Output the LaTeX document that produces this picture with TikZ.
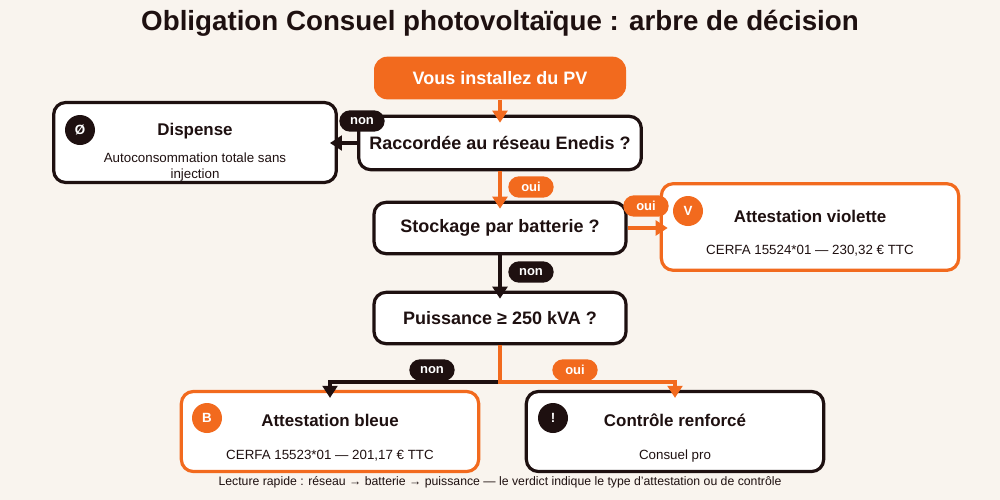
\documentclass[tikz,border=0pt]{standalone}
\usepackage{fontspec}
\setmainfont{Liberation Sans}
\usetikzlibrary{arrows.meta}
\definecolor{fond}{HTML}{F9F4EE}
\definecolor{orangepv}{HTML}{F26A1E}
\definecolor{brun}{HTML}{1E1010}
\tikzset{
  boite/.style={draw=brun,line width=2.4pt,fill=white,rounded corners=9pt,text=brun,font=\fontsize{13.5}{16}\selectfont\bfseries},
  verdict/.style={boite,minimum width=223pt,minimum height=60pt},
  question/.style={boite,minimum width=189pt,minimum height=38.5pt},
  pastille/.style={circle,minimum size=22.5pt,inner sep=0pt,text=white,font=\fontsize{10}{12}\selectfont\bfseries},
  etiquette/.style={rounded corners=8pt,minimum width=34pt,minimum height=16pt,inner sep=0pt,text=white,font=\fontsize{9.75}{12}\selectfont\bfseries},
  titre/.style={text=brun,font=\fontsize{12.7}{15}\selectfont\bfseries},
  detail/.style={text=brun,align=center,font=\fontsize{10}{12}\selectfont},
  fleche/.style={line width=2.4pt,-{Triangle[width=11pt,length=9pt]},shorten >=-6pt}
}
\begin{document}
\begin{tikzpicture}[x=0.75pt,y=-0.75pt]
\fill[fond] (0,0) rectangle (1000,500);
\node[text=brun,font=\fontsize{20.8}{24}\selectfont\bfseries] (titre) at (500,23) {Obligation Consuel photovoltaïque : arbre de décision};

% questions
\node[fill=orangepv,rounded corners=10pt,minimum width=189pt,minimum height=32pt,text=white,font=\fontsize{13.5}{16}\selectfont\bfseries] (depart) at (500,78) {Vous installez du PV};
\node[question,minimum width=212pt,minimum height=40pt] (q1) at (500,143) {Raccordée au réseau Enedis ?};
\node[question] (q2) at (500,228) {Stockage par batterie ?};
\node[question] (q3) at (500,318) {Puissance ≥ 250 kVA ?};

% verdicts
\node[verdict,minimum width=212pt] (dispense) at (195,142.5) {};
\node[pastille,fill=brun] (iconeD) at (80,130) {Ø};
\node[titre] (titreD) at (195,131) {Dispense};
\node[detail] (detailD) at (195,167) {Autoconsommation totale sans\\injection};

\node[verdict,draw=orangepv,minimum height=65pt] (violette) at (810,227) {};
\node[pastille,fill=orangepv] (iconeV) at (688,211) {V};
\node[titre] (titreV) at (810,216) {Attestation violette};
\node[detail] (detailV) at (810,251) {CERFA 15524*01 — 230,32 € TTC};

\node[verdict,draw=orangepv] (bleue) at (330,431.5) {};
\node[pastille,fill=orangepv] (iconeB) at (207,418) {B};
\node[titre] (titreB) at (330,420) {Attestation bleue};
\node[detail] (detailB) at (330,456) {CERFA 15523*01 — 201,17 € TTC};

\node[verdict] (controle) at (675,431.5) {};
\node[pastille,fill=brun] (iconeC) at (553,418) {!};
\node[titre] (titreC) at (675,420) {Contrôle renforcé};
\node[detail] (detailC) at (675,456) {Consuel pro};

% liaisons
\coordinate (fourche) at (500,382);
\draw[fleche,orangepv] (depart) -- (q1);
\draw[fleche,brun] (q1.west) -- (q1.west -| dispense.east);
\draw[fleche,orangepv] (q1) -- (q2);
\draw[fleche,orangepv] (q2.east) -- (q2.east -| violette.west);
\draw[fleche,brun] (q2) -- (q3);
\draw[fleche,brun] (q3.south) -- (fourche) -| (bleue.north);
\draw[fleche,orangepv] (q3.south) -- (fourche) -| (controle.north);

\node[etiquette,fill=brun] (non1) at (362,121) {non};
\node[etiquette,fill=orangepv] (oui1) at (531,187) {oui};
\node[etiquette,fill=orangepv] (oui2) at (646,206) {oui};
\node[etiquette,fill=brun] (non2) at (531,272) {non};
\node[etiquette,fill=brun] (non3) at (432,370) {non};
\node[etiquette,fill=orangepv] (oui3) at (575,370) {oui};

\node[text=brun,font=\fontsize{9.2}{11}\selectfont] (lecture) at (500,482) {Lecture rapide : réseau → batterie → puissance — le verdict indique le type d’attestation ou de contrôle};
\end{tikzpicture}
\end{document}
